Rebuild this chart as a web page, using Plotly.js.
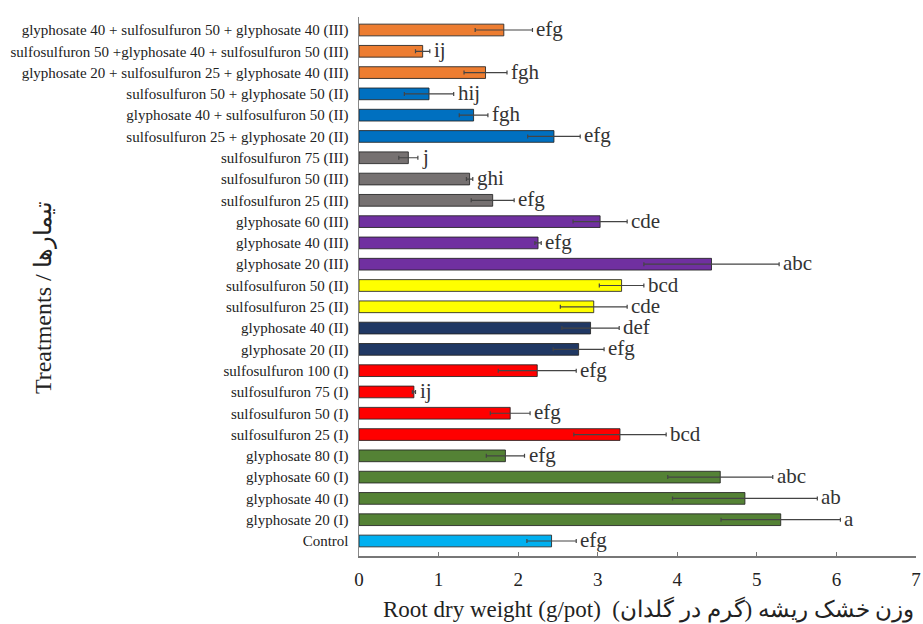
<!DOCTYPE html>
<html>
<head>
<meta charset="utf-8">
<script src="https://cdn.plot.ly/plotly-3.0.1.min.js"></script>
<style>html,body{margin:0;padding:0;background:#fff;}#chart{width:923px;height:624px;}</style>
</head>
<body>
<div id="chart"></div>
<script>
// Categories, listed top to bottom as in the figure
const treatments = [
  "glyphosate 40 + sulfosulfuron 50 + glyphosate 40 (III)",
  "sulfosulfuron 50 +glyphosate 40 + sulfosulfuron 50 (III)",
  "glyphosate 20 + sulfosulfuron 25 + glyphosate 40 (III)",
  "sulfosulfuron 50 + glyphosate 50 (II)",
  "glyphosate 40 + sulfosulfuron 50 (II)",
  "sulfosulfuron 25 + glyphosate 20 (II)",
  "sulfosulfuron 75 (III)",
  "sulfosulfuron 50 (III)",
  "sulfosulfuron 25 (III)",
  "glyphosate 60 (III)",
  "glyphosate 40 (III)",
  "glyphosate 20 (III)",
  "sulfosulfuron 50 (II)",
  "sulfosulfuron 25 (II)",
  "glyphosate 40 (II)",
  "glyphosate 20 (II)",
  "sulfosulfuron 100 (I)",
  "sulfosulfuron 75 (I)",
  "sulfosulfuron 50 (I)",
  "sulfosulfuron 25 (I)",
  "glyphosate 80 (I)",
  "glyphosate 60 (I)",
  "glyphosate 40 (I)",
  "glyphosate 20 (I)",
  "Control"
];
// Root dry weight (g/pot)
const rootDryWeight = [1.82, 0.80, 1.59, 0.88, 1.44, 2.45, 0.62, 1.39, 1.68, 3.03, 2.25, 4.43, 3.30, 2.95, 2.91, 2.76, 2.24, 0.69, 1.90, 3.28, 1.84, 4.54, 4.85, 5.30, 2.42];
// Standard errors
const stdErr = [0.36, 0.09, 0.27, 0.31, 0.18, 0.33, 0.12, 0.04, 0.27, 0.34, 0.04, 0.85, 0.28, 0.42, 0.36, 0.32, 0.49, 0.02, 0.25, 0.58, 0.24, 0.66, 0.91, 0.75, 0.31];
// Significance letters
const letters = ["efg", "ij", "fgh", "hij", "fgh", "efg", "j", "ghi", "efg", "cde", "efg", "abc", "bcd", "cde", "def", "efg", "efg", "ij", "efg", "bcd", "efg", "abc", "ab", "a", "efg"];
// Bar colours (style)
const barColors = [
  "#ED7D31", "#ED7D31", "#ED7D31",
  "#0070C0", "#0070C0", "#0070C0",
  "#767171", "#767171", "#767171",
  "#7030A0", "#7030A0", "#7030A0",
  "#FFFF00", "#FFFF00",
  "#203864", "#203864",
  "#FF0000", "#FF0000", "#FF0000", "#FF0000",
  "#548235", "#548235", "#548235", "#548235",
  "#00B0F0"
];

const serif = "Liberation Serif, Times New Roman, serif";

const trace = {
  type: "bar",
  orientation: "h",
  y: treatments,
  x: rootDryWeight,
  marker: { color: barColors, line: { color: "rgba(35,35,35,0.85)", width: 1 } },
  error_x: { type: "data", array: stdErr, visible: true, color: "#444", thickness: 1.2, width: 2 },
  hoverinfo: "x+y"
};

const annotations = treatments.map((t, i) => ({
  x: rootDryWeight[i] + stdErr[i], y: t, xref: "x", yref: "y",
  text: letters[i], showarrow: false, xanchor: "left", yanchor: "middle",
  xshift: 2, yshift: 1,
  font: { family: serif, size: 21, color: "#333" }
}));

annotations.push({
  xref: "paper", yref: "paper", x: -0.565, y: 0.479,
  text: "Treatments / تیمارها", textangle: -90, showarrow: false,
  xanchor: "center", yanchor: "middle",
  font: { family: serif, size: 24, color: "#222" }
});
annotations.push({
  xref: "paper", yref: "paper", x: 0.52, y: -0.1,
  text: "Root dry weight (g/pot)  وزن خشک ریشه (گرم در گلدان)\u200F", showarrow: false,
  xanchor: "center", yanchor: "middle",
  font: { family: serif, size: 23, color: "#222" }
});

const layout = {
  width: 923, height: 624,
  margin: { l: 359, r: 7, t: 17, b: 68, pad: 0 },
  paper_bgcolor: "#fff", plot_bgcolor: "#fff",
  showlegend: false,
  bargap: 0.45,
  xaxis: {
    range: [0, 7], dtick: 1, tick0: 0,
    showgrid: false, zeroline: false,
    showline: true, linecolor: "#777", linewidth: 1.5,
    ticks: "inside", ticklen: 4, tickcolor: "#777", tickwidth: 1.2,
    tickfont: { family: serif, size: 19, color: "#222" },
    ticklabelstandoff: 6
  },
  yaxis: {
    autorange: "reversed", type: "category",
    showgrid: false, zeroline: false,
    showline: true, linecolor: "#888", linewidth: 1.5,
    ticks: "", ticklabelstandoff: 6,
    tickfont: { family: serif, size: 15, color: "#222" }
  },
  annotations: annotations
};

Plotly.newPlot("chart", [trace], layout, { displayModeBar: false, staticPlot: true });
</script>
</body>
</html>
